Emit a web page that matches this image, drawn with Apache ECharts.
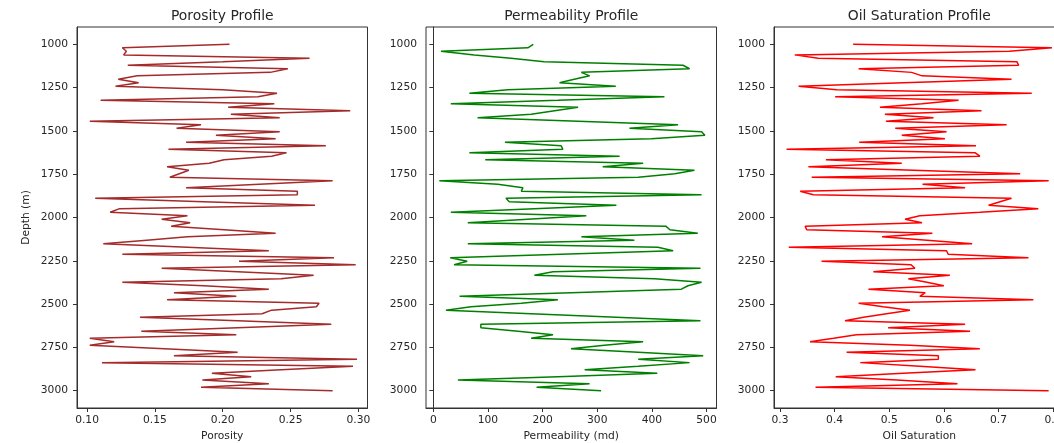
<!DOCTYPE html>
<html>
<head>
<meta charset="utf-8">
<script src="https://cdn.jsdelivr.net/npm/echarts@6/dist/echarts.min.js"></script>
<style>
html,body{margin:0;padding:0;background:#fff;}
#c{width:1054px;height:443px;}
</style>
</head>
<body>
<div id="c"></div>
<script>
const depths = [1000,1020,1040,1061,1081,1101,1121,1141,1162,1182,1202,1222,1242,1263,1283,1303,1323,1343,1364,1384,1404,1424,1444,1465,1485,1505,1525,1545,1566,1586,1606,1626,1646,1667,1687,1707,1727,1747,1768,1788,1808,1828,1848,1869,1889,1909,1929,1949,1970,1990,2010,2030,2051,2071,2091,2111,2131,2152,2172,2192,2212,2232,2253,2273,2293,2313,2333,2354,2374,2394,2414,2434,2455,2475,2495,2515,2535,2556,2576,2596,2616,2636,2657,2677,2697,2717,2737,2758,2778,2798,2818,2838,2859,2879,2899,2919,2939,2960,2980,3000];

const porosity = [0.205,0.126,0.129,0.127,0.264,0.200,0.130,0.248,0.235,0.137,
0.123,0.138,0.121,0.200,0.240,0.226,0.110,0.238,0.204,0.294,
0.206,0.242,0.102,0.184,0.166,0.242,0.195,0.239,0.173,0.276,
0.160,0.247,0.236,0.201,0.190,0.159,0.175,0.168,0.161,0.281,
0.227,0.173,0.255,0.255,0.106,0.186,0.268,0.124,0.117,0.174,
0.155,0.176,0.162,0.201,0.239,0.174,0.144,0.112,0.174,0.234,
0.126,0.282,0.212,0.298,0.155,0.211,0.267,0.243,0.126,0.186,
0.234,0.164,0.210,0.159,0.271,0.269,0.236,0.229,0.139,0.211,
0.280,0.211,0.140,0.210,0.102,0.120,0.102,0.157,0.211,0.164,
0.299,0.111,0.296,0.243,0.192,0.221,0.185,0.234,0.184,0.281];

const permeability = [183,173,14,75,142,203,457,469,271,286,
258,231,334,136,66,423,228,32,265,222,
179,81,265,448,359,491,497,399,131,234,
237,66,341,95,384,310,478,442,375,11,
118,164,161,491,133,139,335,185,32,280,
173,63,426,433,484,271,368,63,411,439,
234,31,62,38,489,219,185,405,491,466,
454,252,48,228,161,69,23,179,335,489,
87,87,155,219,179,384,313,252,375,494,
375,469,375,277,410,228,45,286,189,307];

const oilSaturation = [0.434,0.798,0.720,0.327,0.370,0.734,0.737,0.444,0.541,0.560,
0.724,0.526,0.334,0.404,0.761,0.401,0.627,0.560,0.483,0.669,
0.492,0.581,0.494,0.715,0.511,0.605,0.523,0.602,0.445,0.659,
0.312,0.657,0.666,0.384,0.523,0.352,0.544,0.740,0.358,0.792,
0.561,0.639,0.337,0.361,0.724,0.703,0.682,0.773,0.666,0.556,
0.529,0.560,0.346,0.349,0.579,0.487,0.569,0.652,0.316,0.605,
0.608,0.755,0.376,0.540,0.547,0.471,0.611,0.535,0.569,0.600,
0.462,0.566,0.556,0.764,0.444,0.489,0.538,0.495,0.453,0.419,
0.639,0.498,0.648,0.440,0.398,0.355,0.538,0.666,0.422,0.590,
0.590,0.447,0.556,0.658,0.526,0.402,0.514,0.625,0.365,0.792];

const depthTicks = [1000,1250,1500,1750,2000,2250,2500,2750,3000];
const porosityTicks = [0.10,0.15,0.20,0.25,0.30];
const permeabilityTicks = [0,100,200,300,400,500];
const oilTicks = [0.3,0.4,0.5,0.6,0.7,0.8];

const titles = ['Porosity Profile','Permeability Profile','Oil Saturation Profile'];
const xNames = ['Porosity','Permeability (md)','Oil Saturation'];

const FONT = 'DejaVu Sans';
const TXT = '#262626';
const TICKFS = 10.7;
const gridLefts = [77, 426, 774];
const gridW = 290.5, gridTop = 27, gridH = 381;
const xRanges = [[0.0926,0.3067],[-13.4,518.3],[0.289,0.821]];
const xTicks = [porosityTicks, permeabilityTicks, oilTicks];
const xFmt = [v=>v.toFixed(2), v=>String(v), v=>v.toFixed(1)];
const colors = ['#a52a2a','#008000','#ff0000'];
const seriesVals = [porosity, permeability, oilSaturation];

const grids = [], xAxes = [], yAxes = [], series = [], graphics = [];
for (let k=0;k<3;k++){
  grids.push({left:gridLefts[k], top:gridTop, width:gridW, height:gridH, show:true,
    borderColor:'#333', borderWidth:1, backgroundColor:'transparent', outerBoundsMode:'none'});
  xAxes.push({type:'value', gridIndex:k, min:xRanges[k][0], max:xRanges[k][1], position:'bottom',
    axisLine:{show:true, lineStyle:{color:'#333', width:1}},
    axisTick:{show:true, length:4, customValues:xTicks[k], lineStyle:{color:'#333'}},
    axisLabel:{customValues:xTicks[k], formatter:xFmt[k], color:TXT, fontFamily:FONT, fontSize:TICKFS, margin:7},
    splitLine:{show:false},
    name:xNames[k], nameLocation:'middle', nameGap:23,
    nameTextStyle:{color:TXT, fontFamily:FONT, fontSize:TICKFS}});
  const ya = {type:'value', gridIndex:k, min:900, max:3100, inverse:true,
    axisLine:{show:true, lineStyle:{color:'#333', width:1}},
    axisTick:{show:true, length:4, customValues:depthTicks, lineStyle:{color:'#333'}},
    axisLabel:{customValues:depthTicks, formatter:v=>String(v), color:TXT, fontFamily:FONT, fontSize:TICKFS, margin:9},
    splitLine:{show:false}};
  if (k===0){
    ya.name = 'Depth (m)'; ya.nameLocation='middle'; ya.nameGap=45;
    ya.nameTextStyle = {color:TXT, fontFamily:FONT, fontSize:TICKFS};
  }
  yAxes.push(ya);
  series.push({type:'line', xAxisIndex:k, yAxisIndex:k, showSymbol:false, symbol:'none',
    lineStyle:{color:colors[k], width:1.5}, itemStyle:{color:colors[k]},
    data: seriesVals[k].map((v,i)=>[v, depths[i]]), clip:true});
  graphics.push({type:'text', x:gridLefts[k]+gridW/2, y:16,
    style:{text:titles[k], fill:TXT, font:'13.9px "DejaVu Sans"', textAlign:'center', textVerticalAlign:'middle'}});
}

const chart = echarts.init(document.getElementById('c'), null, {renderer:'canvas'});
chart.setOption({animation:false, grid:grids, xAxis:xAxes, yAxis:yAxes, series:series, graphic:graphics});
</script>
</body>
</html>
